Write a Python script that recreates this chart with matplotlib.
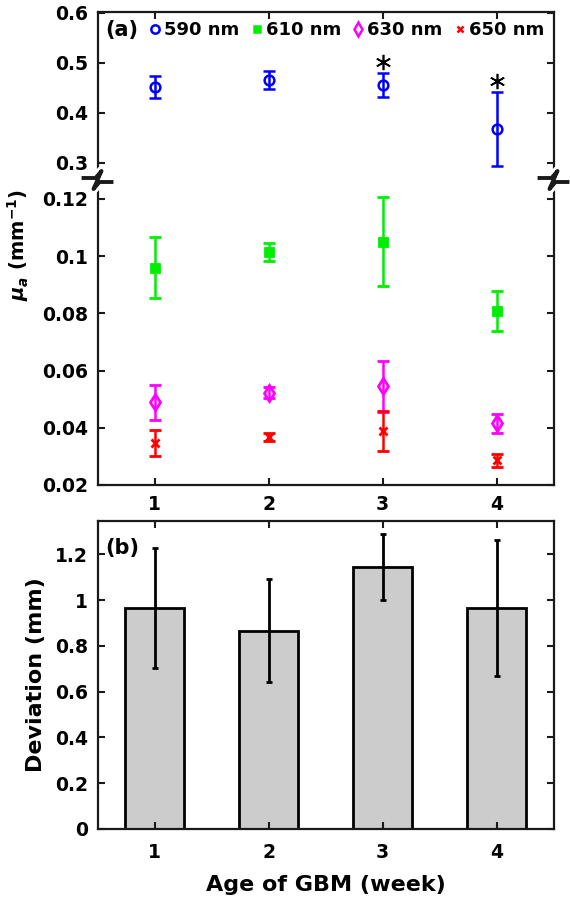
import matplotlib
matplotlib.use('Agg')
from matplotlib import pyplot as plt
from matplotlib.lines import Line2D
from matplotlib.transforms import offset_copy

plt.rcParams['font.family'] = ['DejaVu Sans']
plt.rcParams['font.weight'] = 'bold'
plt.rcParams['axes.labelweight'] = 'bold'
plt.rcParams['mathtext.fontset'] = 'custom'
plt.rcParams['mathtext.it'] = 'DejaVu Sans:italic:bold'
plt.rcParams['mathtext.rm'] = 'DejaVu Sans:bold'
plt.rcParams['mathtext.bf'] = 'DejaVu Sans:bold'

# data
weeks = [1, 2, 3, 4]
labels = ['590 nm', '610 nm', '630 nm', '650 nm']
mu590 = [0.452, 0.466, 0.456, 0.368]
err590 = [0.022, 0.018, 0.024, 0.074]
mu610 = [0.0959, 0.1015, 0.1051, 0.0808]
err610 = [0.0107, 0.0032, 0.0155, 0.0071]
mu630 = [0.0489, 0.0523, 0.0545, 0.0415]
err630 = [0.0061, 0.0018, 0.0090, 0.0034]
mu650 = [0.0347, 0.0367, 0.0389, 0.0286]
err650 = [0.0046, 0.0013, 0.0069, 0.0023]
star_weeks = [3, 4]
dev = [0.965, 0.865, 1.143, 0.965]
dev_err = [0.262, 0.225, 0.145, 0.298]

colors = ['#0000ff', '#00ee00', '#ff00ff', '#ff0000']
markers = ['o', 's', 'd', 'x']
msizes = [7, 6, 8, 6]

fig = plt.figure(figsize=(5.7, 9), dpi=100)
W, H = 570.0, 900.0

def pos(l, t, r, b):
    return [l / W, 1 - b / H, (r - l) / W, (b - t) / H]

ax_up = fig.add_axes(pos(97.5, 12, 553.5, 180))
ax_lo = fig.add_axes(pos(97.5, 180, 553.5, 485))
ax_b = fig.add_axes(pos(97.5, 521, 553.5, 829))

axc = '#1a1a1a'
for ax in (ax_up, ax_lo, ax_b):
    for s in ax.spines.values():
        s.set_linewidth(1.6)
        s.set_color(axc)
    ax.tick_params(direction='in', length=5, width=1.5, labelsize=13.5,
                   right=True, top=True, color=axc, pad=7)
    ax.set_xlim(0.5, 4.5)
    ax.set_xticks(weeks)

ax_up.spines['bottom'].set_visible(False)
ax_lo.spines['top'].set_visible(False)
ax_up.tick_params(bottom=False, labelbottom=False)
ax_lo.tick_params(top=False)

# panel (a) upper part
ax_up.errorbar(weeks, mu590, yerr=err590, fmt=markers[0], color=colors[0],
               mfc='none', ms=msizes[0], mew=1.8, elinewidth=1.8,
               capsize=4.5, capthick=1.8)
ax_up.set_ylim(0.266, 0.602)
ax_up.set_yticks([0.3, 0.4, 0.5, 0.6])
ax_up.set_yticklabels(['0.3', '0.4', '0.5', '0.6'])
star_tr = offset_copy(ax_up.transData, fig=fig, y=8, units='points')
for w in star_weeks:
    i = weeks.index(w)
    ax_up.plot(w, mu590[i] + err590[i], marker=(6, 2, 0), ms=11, mew=1.2,
               color='k', transform=star_tr, clip_on=False)

# panel (a) lower part
series = [(mu610, err610), (mu630, err630), (mu650, err650)]
for k, (m, e) in enumerate(series, start=1):
    mfc = colors[k] if markers[k] == 's' else 'none'
    ax_lo.errorbar(weeks, m, yerr=e, fmt=markers[k], color=colors[k], mfc=mfc,
                   ms=msizes[k], mew=2.0, elinewidth=1.8, capsize=4.5,
                   capthick=1.8)
ax_lo.set_ylim(0.02, 0.1266)
ax_lo.set_yticks([0.02, 0.04, 0.06, 0.08, 0.1, 0.12])
ax_lo.set_yticklabels(['0.02', '0.04', '0.06', '0.08', '0.1', '0.12'])
ax_lo.set_xticklabels([str(w) for w in weeks])

# legend
handles = []
for k in range(4):
    mfc = colors[k] if markers[k] == 's' else 'none'
    handles.append(Line2D([], [], ls='none', marker=markers[k], color=colors[k],
                          mfc=mfc, ms=msizes[k] - 1, mew=1.8))
ax_up.legend(handles, labels, ncol=4, loc='center right', frameon=False,
             handletextpad=0.1, columnspacing=0.55, handlelength=0.8,
             fontsize=13, borderaxespad=0.0,
             bbox_to_anchor=(0.995, 1 - 18 / 168.0))
ax_up.text((105 - 97.5) / 456, 1 - 18 / 168.0, '(a)', transform=ax_up.transAxes,
           fontsize=15, ha='left', va='center')

# break marks
def zig(x, y):
    dx = [-14, -2, 4, -4, 2, 14]
    dy = [-2, -2, -9, 9, 2, 2]
    xs = [(x + a) / W for a in dx]
    ys = [1 - (y + b) / H for b in dy]
    fig.add_artist(Line2D(xs, ys, color='white', lw=7, transform=fig.transFigure))
    fig.add_artist(Line2D(xs, ys, color=axc, lw=2.8, transform=fig.transFigure))

zig(97.5, 180)
zig(553.5, 180)

fig.text(18 / W, 1 - 245 / H, r'$\mu_a$ (mm$^{-1}$)', rotation=90,
         ha='center', va='center', fontsize=14)

# panel (b)
ax_b.bar(weeks, dev, width=0.51, color='#cccccc', edgecolor='k', linewidth=2)
ax_b.errorbar(weeks, dev, yerr=dev_err, fmt='none', ecolor='k',
              elinewidth=2, capsize=2.5, capthick=2)
ax_b.set_ylim(0, 1.345)
ax_b.set_yticks([0, 0.2, 0.4, 0.6, 0.8, 1, 1.2])
ax_b.set_yticklabels(['0', '0.2', '0.4', '0.6', '0.8', '1', '1.2'])
ax_b.set_xticklabels([str(w) for w in weeks])
ax_b.tick_params(axis='x', pad=10)
fig.text(36 / W, 1 - 675 / H, 'Deviation (mm)', rotation=90,
         ha='center', va='center', fontsize=16)
fig.text(325.5 / W, 1 - 885 / H, 'Age of GBM (week)',
         ha='center', va='center', fontsize=16)
ax_b.text((105 - 97.5) / 456, 1 - 27 / 308.0, '(b)', transform=ax_b.transAxes,
          fontsize=15, ha='left', va='center')

plt.savefig('out.png', dpi=100)
